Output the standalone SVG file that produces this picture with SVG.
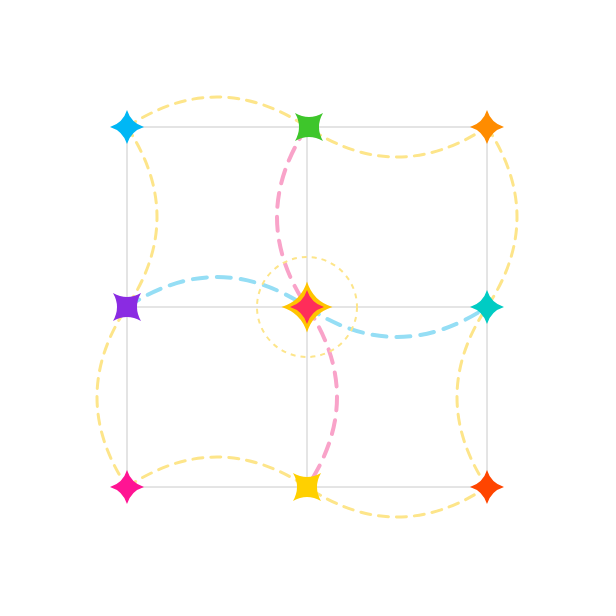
<svg xmlns="http://www.w3.org/2000/svg" width="616" height="616" viewBox="0 0 616 616">
<style>
.grid{stroke:#dcdcdc;stroke-width:1.5;fill:none}
.y{fill:none;stroke:#fde58a;stroke-width:3;stroke-dasharray:10 8;stroke-linecap:round}
.b{fill:none;stroke:#95def5;stroke-width:4;stroke-dasharray:14 10;stroke-linecap:round}
.p{fill:none;stroke:#f9a3c9;stroke-width:4;stroke-dasharray:14 10;stroke-linecap:round}
.c{fill:none;stroke:#fde58a;stroke-width:2;stroke-dasharray:5 5}
</style>
<defs>
<path id="star" d="M0,-17 Q4,-4 17,0 Q4,4 0,17 Q-4,4 -17,0 Q-4,-4 0,-17Z"/>
<path id="starR" d="M-14,-14 Q0,-6 14,-14 Q6,0 14,14 Q0,6 -14,14 Q-6,0 -14,-14Z"/>
</defs>
<rect width="616" height="616" fill="#fff"/>
<g id="grid" class="grid">
<rect x="127" y="127" width="360" height="360"/>
<line x1="307" y1="127" x2="307" y2="487"/>
<line x1="127" y1="307" x2="487" y2="307"/>
</g>
<g id="connectors">
<path class="y" d="M127,127 Q217,67 307,127 T487,127"/>
<path class="y" d="M127,487 Q217,427 307,487 T487,487"/>
<path class="y" d="M127,127 Q187,217 127,307 T127,487"/>
<path class="y" d="M487,127 Q547,217 487,307 T487,487"/>
<path class="b" d="M127,307 Q217,247 307,307 T487,307"/>
<path class="p" d="M307,127 Q247,217 307,307 T307,487"/>
<circle class="c" cx="307" cy="307" r="50"/>
</g>
<g id="n1"><use href="#star" transform="translate(127,127)" fill="#00b7f5"/></g>
<g id="n2"><use href="#starR" transform="translate(309,127)" fill="#3ec62b"/></g>
<g id="n3"><use href="#star" transform="translate(487,127)" fill="#ff8c00"/></g>
<g id="n4"><use href="#starR" transform="translate(127,307)" fill="#8a2be2"/></g>
<g id="n5"><use href="#star" transform="translate(307,307) scale(1.5)" fill="#ffc400"/><use href="#star" transform="translate(307,307) scale(1.0)" fill="#ff2d5a"/></g>
<g id="n6"><use href="#star" transform="translate(487,307)" fill="#00ccc4"/></g>
<g id="n7"><use href="#star" transform="translate(127,487)" fill="#ff1493"/></g>
<g id="n8"><use href="#starR" transform="translate(307,487)" fill="#ffd000"/></g>
<g id="n9"><use href="#star" transform="translate(487,487)" fill="#ff4500"/></g>
</svg>
